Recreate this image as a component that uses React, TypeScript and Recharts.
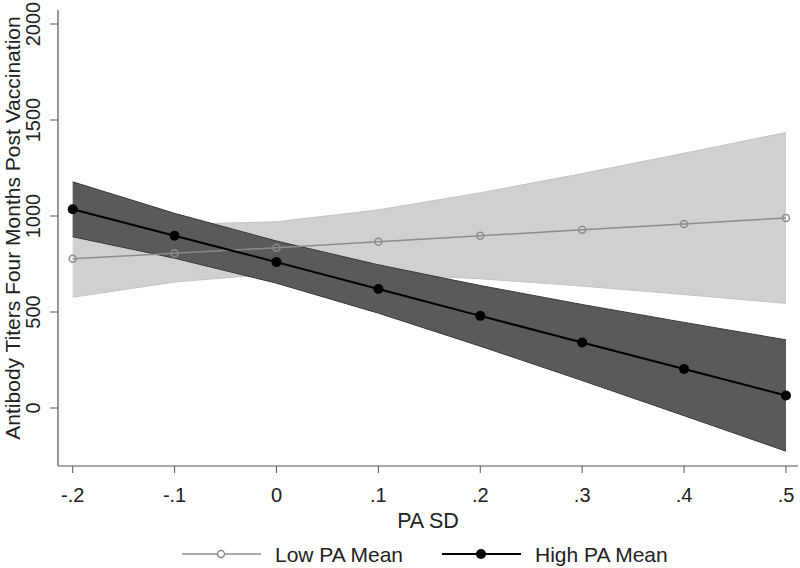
import React from 'react';
import { ComposedChart, Area, Line, XAxis, YAxis, Legend } from 'recharts';

const xValues = [-0.2, -0.1, 0, 0.1, 0.2, 0.3, 0.4, 0.5];
const lowMean = [777, 806, 835, 866, 897, 928, 959, 990];
const lowLower = [577, 656, 700, 700, 673, 635, 591, 545];
const lowUpper = [977, 956, 970, 1032, 1121, 1221, 1327, 1435];
const highMean = [1035, 897, 760, 620, 480, 341, 203, 65];
const highLower = [892, 780, 650, 494, 322, 143, -40, -225];
const highUpper = [1178, 1014, 870, 746, 638, 539, 446, 355];

const xTicks = [-0.2, -0.1, 0, 0.1, 0.2, 0.3, 0.4, 0.5];
const xTickLabels = ['-.2', '-.1', '0', '.1', '.2', '.3', '.4', '.5'];
const yTicks = [0, 500, 1000, 1500, 2000];
const yTickLabels = ['0', '500', '1000', '1500', '2000'];

const seriesNames = ['Low PA Mean', 'High PA Mean'];

const data = xValues.map((x, i) => ({
  x,
  low: lowMean[i],
  lowCI: [lowLower[i], lowUpper[i]],
  high: highMean[i],
  highCI: [highLower[i], highUpper[i]],
}));

const FONT = '"Liberation Sans", Arial, sans-serif';
const FS_TICK = 20;
const FS_TITLE = 21.5;
const FS_YTITLE = 21;
const FS_LEGEND = 21;
const AXIS = '#555555';
const TEXT = '#222222';
const LOW_COLOR = '#8c8c8c';
const HIGH_COLOR = '#000000';

const YTick = (props: any) => {
  const { y, payload } = props;
  const idx = yTicks.indexOf(payload.value);
  const label = idx >= 0 ? yTickLabels[idx] : String(payload.value);
  return (
    <text
      x={40}
      y={y}
      transform={`rotate(-90, 40, ${y})`}
      textAnchor="middle"
      fontSize={FS_TICK}
      fontFamily={FONT}
      fill={TEXT}
    >
      {label}
    </text>
  );
};

const XTick = (props: any) => {
  const { x, payload } = props;
  const idx = xTicks.findIndex((t) => Math.abs(t - payload.value) < 1e-9);
  const label = idx >= 0 ? xTickLabels[idx] : String(payload.value);
  return (
    <text x={x} y={502} textAnchor="middle" fontSize={FS_TICK} fontFamily={FONT} fill={TEXT}>
      {label}
    </text>
  );
};

const XTitle = () => (
  <text x={428} y={528} textAnchor="middle" fontSize={FS_TITLE} fontFamily={FONT} fill={TEXT}>
    PA SD
  </text>
);

const YTitle = () => (
  <text
    x={20}
    y={228}
    transform="rotate(-90, 20, 228)"
    textAnchor="middle"
    fontSize={FS_YTITLE}
    fontFamily={FONT}
    fill={TEXT}
  >
    Antibody Titers Four Months Post Vaccination
  </text>
);

const LegendContent = () => (
  <svg width={800} height={33} style={{ display: 'block' }}>
    <line x1={182} y1={19} x2={261} y2={19} stroke={LOW_COLOR} strokeWidth={1.5} />
    <circle cx={221} cy={19} r={3.5} fill="#fff" stroke={LOW_COLOR} strokeWidth={1.5} />
    <text x={275} y={27} fontSize={FS_LEGEND} fontFamily={FONT} fill={TEXT}>
      {seriesNames[0]}
    </text>
    <line x1={442} y1={19} x2={521} y2={19} stroke={HIGH_COLOR} strokeWidth={2} />
    <circle cx={481} cy={19} r={5} fill={HIGH_COLOR} />
    <text x={535} y={27} fontSize={FS_LEGEND} fontFamily={FONT} fill={TEXT}>
      {seriesNames[1]}
    </text>
  </svg>
);

export default function App() {
  return (
    <div style={{ position: 'absolute', left: 0, top: 0, width: 800, height: 568, background: '#fff' }}>
      <ComposedChart
        width={800}
        height={568}
        data={data}
        margin={{ top: 10, right: 2, bottom: 42, left: 0 }}
        style={{ fontFamily: FONT }}
      >
        <XAxis
          dataKey="x"
          type="number"
          domain={[-0.2144, 0.5118]}
          allowDataOverflow
          ticks={xTicks}
          tick={<XTick />}
          tickSize={7}
          height={60}
          stroke={AXIS}
          tickLine={{ stroke: AXIS }}
          axisLine={{ stroke: AXIS, strokeWidth: 1.2 }}
          label={<XTitle />}
        />
        <YAxis
          type="number"
          domain={[-302, 2073]}
          allowDataOverflow
          ticks={yTicks}
          tick={<YTick />}
          tickSize={8}
          width={58}
          stroke={AXIS}
          tickLine={{ stroke: AXIS }}
          axisLine={{ stroke: AXIS, strokeWidth: 1.2 }}
          label={<YTitle />}
        />
        <Legend
          verticalAlign="middle"
          layout="horizontal"
          content={<LegendContent />}
          wrapperStyle={{ position: 'absolute', left: 0, top: 535, width: 800, height: 33 }}
        />
        <Area
          type="linear"
          dataKey="lowCI"
          fill="#d0d0d0"
          fillOpacity={1}
          stroke="#c4c4c4"
          strokeWidth={1}
          isAnimationActive={false}
          legendType="none"
          activeDot={false}
        />
        <Area
          type="linear"
          dataKey="highCI"
          fill="#5a5a5a"
          fillOpacity={1}
          stroke="#3a3a3a"
          strokeWidth={1}
          isAnimationActive={false}
          legendType="none"
          activeDot={false}
        />
        <Line
          type="linear"
          dataKey="low"
          name={seriesNames[0]}
          stroke={LOW_COLOR}
          strokeWidth={1.5}
          dot={{ r: 3.5, fill: 'none', stroke: LOW_COLOR, strokeWidth: 1.5 }}
          activeDot={false}
          isAnimationActive={false}
        />
        <Line
          type="linear"
          dataKey="high"
          name={seriesNames[1]}
          stroke={HIGH_COLOR}
          strokeWidth={2}
          dot={{ r: 5, fill: HIGH_COLOR, stroke: HIGH_COLOR, strokeWidth: 0 }}
          activeDot={false}
          isAnimationActive={false}
        />
      </ComposedChart>
    </div>
  );
}
